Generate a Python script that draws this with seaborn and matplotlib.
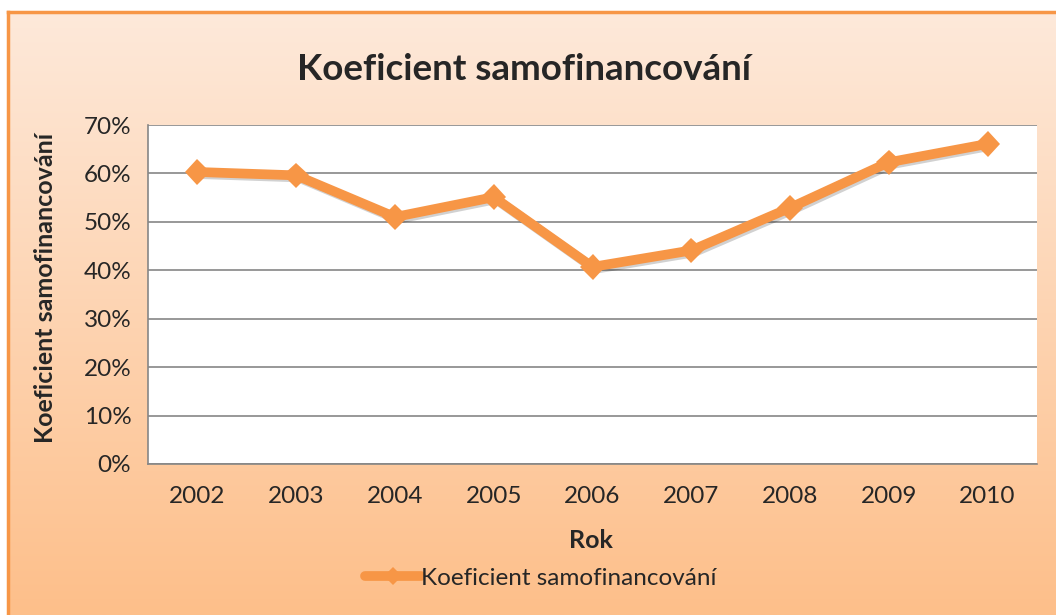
import numpy as np
import pandas as pd
import matplotlib.pyplot as plt
import matplotlib.patheffects as pe
from matplotlib.colors import LinearSegmentedColormap
from matplotlib.lines import Line2D
from matplotlib.ticker import MultipleLocator, FixedLocator, FuncFormatter
import seaborn as sns

# data (percent)
roky = ['2002', '2003', '2004', '2005', '2006', '2007', '2008', '2009', '2010']
koef = [60.3, 59.6, 51.0, 55.1, 40.7, 44.1, 52.9, 62.3, 66.1]
nazev = 'Koeficient samofinancování'

df = pd.DataFrame({'rok': roky, 'koef': koef})

sns.set_style('white')
plt.rcParams['font.family'] = ['Lato', 'DejaVu Sans']

orange = '#F79646'
grid_c = '#868686'

fig = plt.figure(figsize=(10.56, 6.15), dpi=100)
fig.patch.set_facecolor('white')

# gradient background of the chart area
bg = fig.add_axes([8/1056, 0, 1 - 8/1056, 1 - 12/615])
grad = np.linspace(0, 1, 256).reshape(-1, 1)
cmap = LinearSegmentedColormap.from_list('bg', ['#FEE9DA', '#FDBF8A'])
bg.imshow(grad, aspect='auto', cmap=cmap, extent=[0, 1, 0, 1])
bg.set_xticks([])
bg.set_yticks([])
for s in ['right', 'bottom']:
    bg.spines[s].set_visible(False)
for s in ['top', 'left']:
    bg.spines[s].set_color(orange)
    bg.spines[s].set_linewidth(2.5)

ax = fig.add_axes([148/1056, 1 - 464/615, (1037 - 148)/1056, (464 - 125)/615])
ax.set_facecolor('white')

sns.lineplot(data=df, x='rok', y='koef', ax=ax, color=orange, lw=7,
             marker='D', markersize=13, markeredgewidth=0, legend=False)
ax.lines[0].set_path_effects([pe.SimpleLineShadow(offset=(1.5, -1.5), alpha=0.18,
                                                  shadow_color='black'),
                              pe.Normal()])

ax.set_xlim(-0.5, 8.5)
ax.set_ylim(0, 70)
ax.yaxis.set_major_locator(MultipleLocator(10))
ax.yaxis.set_major_formatter(FuncFormatter(lambda v, p: f'{v:.0f}%'))
ax.grid(axis='y', color=grid_c, lw=1.2)
ax.set_axisbelow(True)

ax.xaxis.set_minor_locator(FixedLocator(np.arange(-0.5, 9, 1)))
ax.tick_params(axis='x', which='major', length=0, pad=16, labelsize=17.5)
ax.tick_params(axis='x', which='minor', length=6, color=grid_c, width=1.2, direction='out')
ax.tick_params(axis='y', length=6, color=grid_c, width=1.2, direction='out', pad=6, labelsize=17.5)
ax.set_xlabel('')
ax.set_ylabel('')

for s in ['top', 'right']:
    ax.spines[s].set_visible(False)
for s in ['left', 'bottom']:
    ax.spines[s].set_color(grid_c)
    ax.spines[s].set_linewidth(1.2)

fig.text(524/1056, 1 - 70/615, nazev, fontsize=26.5, fontweight='bold', ha='center', va='center')
fig.text(46/1056, 1 - 288/615, nazev, fontsize=18, fontweight='bold', rotation=90,
         ha='center', va='center')
fig.text(591/1056, 1 - 540/615, 'Rok', fontsize=18, fontweight='bold', ha='center', va='center')

handle = Line2D([], [], color=orange, lw=7, marker='D', markersize=9, markeredgewidth=0)
fig.legend([handle], [nazev], loc='center', bbox_to_anchor=(541/1056, 1 - 578/615),
           frameon=False, fontsize=17.5, handlelength=2.3, handletextpad=0.0)

fig.savefig('out.png', dpi=100)
